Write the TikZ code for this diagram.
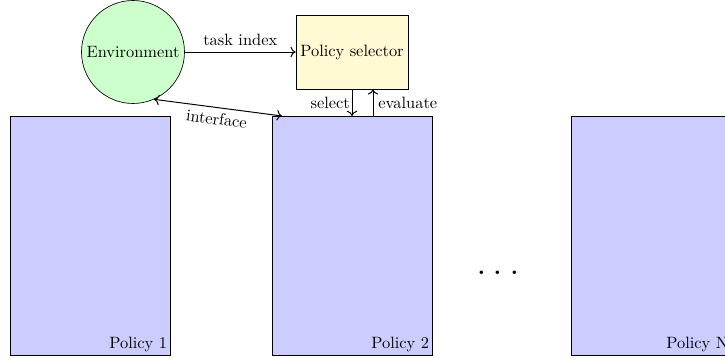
\documentclass[tikz,border=0pt]{standalone}
\usetikzlibrary{calc,arrows.meta}
\definecolor{envgreen}{HTML}{CCFFCC}
\definecolor{polblue}{HTML}{CCCCFF}
\definecolor{selyellow}{HTML}{FFF9D4}
\begin{document}
\begin{tikzpicture}[x=0.61pt,y=-0.61pt,
  >={To[length=3.2pt,width=6.4pt]},
  policybox/.style={draw, fill=polblue, anchor=north west, inner sep=0pt,
    minimum width=160*0.61pt, minimum height=239*0.61pt},
  policylabel/.style={anchor=south east, inner sep=2pt},
  envnode/.style={draw, circle, fill=envgreen, minimum size=103*0.61pt, inner sep=0pt},
  selnode/.style={draw, fill=selyellow, minimum width=112*0.61pt, minimum height=74*0.61pt, inner sep=0pt},
  conn/.style={->, semithick}
]
\useasboundingbox (0,0) rectangle (725,358);
\clip (0,0) rectangle (725,358);
\node[policybox] (p1) at (10,116) {};
\node[policybox] (p2) at (272,116) {};
\node[policybox] (pn) at (571,116) {};
\node[policylabel] (l1) at (p1.south east) {Policy 1};
\node[policylabel] (l2) at (p2.south east) {Policy 2};
\node[policylabel] (ln) at (pn.south east) {Policy N};
\node[envnode] (env) at (133,52) {Environment};
\node[selnode] (sel) at (352,52) {Policy selector};
\node[font=\fontsize{26}{28}\selectfont, anchor=base, inner sep=0pt] (dots) at (498,275) {.\hspace{3.5pt}.\hspace{3.5pt}.};
\draw[conn] (env.east) -- node[above] {task index} (sel.west);
\coordinate (selin) at (sel.south |- p2.north);
\coordinate (evs) at ($(sel.south)+(21,0)$);
\coordinate (evp) at (evs |- p2.north);
\draw[conn] (sel.south) -- node[left, inner sep=1pt] {select} (selin);
\draw[conn] (evp) -- node[right, inner sep=3pt] {evaluate} (evs);
\coordinate (iface) at (282,116);
\draw[conn, <->] (env.-66) -- node[below, sloped, inner sep=3pt] {interface} (iface);
\end{tikzpicture}
\end{document}
